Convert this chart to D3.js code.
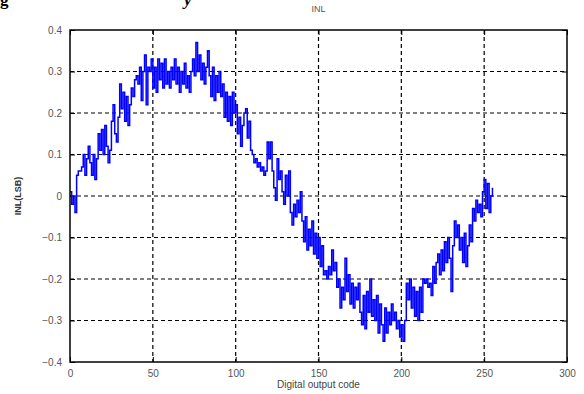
<!DOCTYPE html>
<html>
<head>
<meta charset="utf-8">
<script src="https://cdn.jsdelivr.net/npm/d3@7"></script>
<style>
  body { margin: 0; background: #fff; }
  svg { display: block; }
  .tick text { font-family: Arial, "Liberation Sans", sans-serif; font-size: 10px; fill: #555; }
</style>
</head>
<body>
<div id="viz"></div>
<script>
// INL per output code (codes 0..255)
const inl = [
  0.01, -0.02, 0.00, -0.04, 0.05, 0.06, 0.06, 0.07, 0.10, 0.05, 0.09, 0.12, 0.08, 0.05, 0.10, 0.04,
  0.09, 0.15, 0.11, 0.16, 0.10, 0.17, 0.12, 0.08, 0.11, 0.18, 0.22, 0.15, 0.13, 0.19, 0.27, 0.21,
  0.25, 0.18, 0.24, 0.17, 0.22, 0.26, 0.24, 0.28, 0.29, 0.27, 0.31, 0.23, 0.30, 0.34, 0.22, 0.31,
  0.30, 0.33, 0.26, 0.31, 0.25, 0.33, 0.28, 0.32, 0.26, 0.33, 0.27, 0.30, 0.26, 0.31, 0.28, 0.33,
  0.27, 0.31, 0.25, 0.30, 0.27, 0.32, 0.26, 0.29, 0.25, 0.30, 0.33, 0.29, 0.37, 0.30, 0.34, 0.28,
  0.32, 0.27, 0.31, 0.35, 0.29, 0.24, 0.31, 0.23, 0.29, 0.25, 0.30, 0.24, 0.27, 0.19, 0.25, 0.18,
  0.24, 0.17, 0.25, 0.20, 0.22, 0.15, 0.19, 0.12, 0.17, 0.20, 0.21, 0.14, 0.18, 0.11, 0.10, 0.08,
  0.09, 0.07, 0.08, 0.06, 0.07, 0.05, 0.06, 0.13, 0.09, 0.13, 0.06, 0.02, -0.01, 0.09, 0.04, 0.06,
  0.01, -0.02, 0.05, 0.00, 0.06, -0.04, -0.07, -0.02, -0.05, -0.01, -0.04, 0.01, -0.06, -0.11, -0.05, -0.13,
  -0.08, -0.12, -0.06, -0.14, -0.09, -0.15, -0.10, -0.17, -0.12, -0.19, -0.18, -0.20, -0.17, -0.19, -0.13, -0.18,
  -0.16, -0.22, -0.20, -0.27, -0.22, -0.25, -0.15, -0.23, -0.19, -0.26, -0.21, -0.27, -0.22, -0.25, -0.21, -0.28,
  -0.31, -0.24, -0.32, -0.23, -0.28, -0.20, -0.29, -0.25, -0.30, -0.24, -0.33, -0.26, -0.31, -0.35, -0.27, -0.33,
  -0.28, -0.31, -0.26, -0.30, -0.28, -0.32, -0.30, -0.34, -0.31, -0.35, -0.30, -0.21, -0.25, -0.20, -0.27, -0.22,
  -0.29, -0.23, -0.30, -0.22, -0.28, -0.20, -0.21, -0.20, -0.22, -0.21, -0.24, -0.17, -0.21, -0.16, -0.14, -0.19,
  -0.13, -0.18, -0.11, -0.16, -0.10, -0.15, -0.23, -0.12, -0.06, -0.10, -0.07, -0.13, -0.10, -0.16, -0.09, -0.17,
  -0.12, -0.07, -0.11, -0.03, -0.06, -0.01, -0.04, -0.02, -0.05, 0.01, 0.04, -0.03, 0.03, -0.04, 0.00, 0.02
];
const xTicks = [0, 50, 100, 150, 200, 250, 300];
const yTicks = [-0.4, -0.3, -0.2, -0.1, 0, 0.1, 0.2, 0.3, 0.4];

const W = 584, H = 394;
const margin = { top: 30, right: 17, bottom: 32, left: 70 };
const width = W - margin.left - margin.right;
const height = H - margin.top - margin.bottom;

const root = d3.select('#viz').append('svg')
  .attr('width', W)
  .attr('height', H);

// caption line above the figure, cut off by the page edge in the source
root.append('text').attr('x', 0).attr('y', 5)
  .attr('font-family', '"Liberation Serif", serif').attr('font-weight', 'bold')
  .attr('font-size', 17).text('g');
root.append('text').attr('x', 184).attr('y', 5)
  .attr('font-family', '"Liberation Serif", serif').attr('font-style', 'italic')
  .attr('font-weight', 'bold').attr('font-size', 17).text('y');

const svg = root.append('g')
  .attr('transform', `translate(${margin.left},${margin.top})`);

const x = d3.scaleLinear().domain([0, 300]).range([0, width]);
const y = d3.scaleLinear().domain([-0.4, 0.4]).range([height, 0]);

const fmt = d => (d === 0 ? '0' : d3.format('.1f')(d));

// grid
svg.append('g')
  .selectAll('line')
  .data(xTicks.slice(1, -1))
  .join('line')
  .attr('x1', d => x(d)).attr('x2', d => x(d))
  .attr('y1', 0).attr('y2', height)
  .attr('stroke', '#000').attr('stroke-width', 1.2).attr('stroke-dasharray', '4,3');
svg.append('g')
  .selectAll('line')
  .data(yTicks.slice(1, -1))
  .join('line')
  .attr('x1', 0).attr('x2', width)
  .attr('y1', d => y(d)).attr('y2', d => y(d))
  .attr('stroke', '#000').attr('stroke-width', 1.2).attr('stroke-dasharray', '4,3');

// axes, ticks inward like matlab
svg.append('g')
  .attr('transform', `translate(0,${height})`)
  .call(d3.axisBottom(x).tickValues(xTicks).tickSizeInner(-5).tickSizeOuter(0).tickPadding(8))
  .call(g => g.select('.domain').remove());
svg.append('g')
  .call(d3.axisTop(x).tickValues(xTicks).tickSizeInner(-5).tickSizeOuter(0).tickFormat(''))
  .call(g => g.select('.domain').remove());
svg.append('g')
  .call(d3.axisLeft(y).tickValues(yTicks).tickFormat(fmt).tickSizeInner(-5).tickSizeOuter(0).tickPadding(8))
  .call(g => g.select('.domain').remove());
svg.append('g')
  .attr('transform', `translate(${width},0)`)
  .call(d3.axisRight(y).tickValues(yTicks).tickSizeInner(-5).tickSizeOuter(0).tickFormat(''))
  .call(g => g.select('.domain').remove());
svg.selectAll('.tick line').attr('stroke', '#000');

svg.append('path')
  .datum(inl)
  .attr('fill', 'none')
  .attr('stroke', '#0000ff')
  .attr('stroke-width', 1.5)
  .attr('d', d3.line()
    .x((d, i) => x(i))
    .y(d => y(d))
    .curve(d3.curveStepAfter));

svg.append('rect')
  .attr('width', width).attr('height', height)
  .attr('fill', 'none').attr('stroke', '#000').attr('stroke-width', 1.5);

svg.append('text')
  .attr('x', width / 2).attr('y', -18)
  .attr('text-anchor', 'middle')
  .attr('font-family', 'Arial, "Liberation Sans", sans-serif')
  .attr('font-size', 9).attr('fill', '#555')
  .text('INL');

svg.append('text')
  .attr('x', width / 2).attr('y', height + 26)
  .attr('text-anchor', 'middle')
  .attr('font-family', 'Arial, "Liberation Sans", sans-serif')
  .attr('font-size', 10).attr('fill', '#444')
  .text('Digital output code');

svg.append('text')
  .attr('transform', `translate(${-49},${height / 2}) rotate(-90)`)
  .attr('text-anchor', 'middle')
  .attr('font-family', 'Arial, "Liberation Sans", sans-serif')
  .attr('font-size', 9).attr('font-weight', 'bold').attr('fill', '#333')
  .text('INL(LSB)');
</script>
</body>
</html>
